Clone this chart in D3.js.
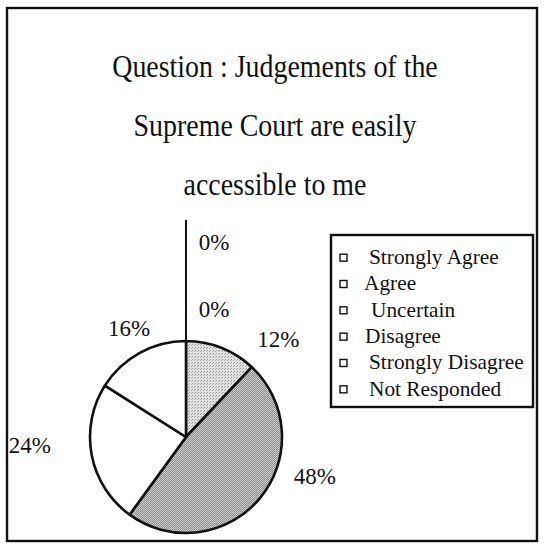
<!DOCTYPE html>
<html>
<head>
<meta charset="utf-8">
<script src="https://cdn.jsdelivr.net/npm/d3@7"></script>
<style>
  body { margin: 0; background: #fff; }
  svg text { font-family: "Liberation Serif", "Times New Roman", serif; fill: #111; }
</style>
</head>
<body>
<div id="pie_chart"></div>
<script>
//chart data
var categories = ["Strongly Agree", "Agree", "Uncertain", "Disagree", "Strongly Disagree", "Not Responded"];
var values = [0, 0, 12, 48, 24, 16];
var titleLines = ["Question : Judgements of the", "Supreme Court are easily", "accessible to me"];

//setting dimensions
var width = 544, height = 547;

var svg = d3.select("#pie_chart")
  .append("svg")
  .attr("width", width)
  .attr("height", height);

//texture patterns (scanned grey fills)
var defs = svg.append("defs");
var light = defs.append("pattern").attr("id", "light")
  .attr("width", 3).attr("height", 3).attr("patternUnits", "userSpaceOnUse");
light.append("rect").attr("width", 3).attr("height", 3).attr("fill", "#e2e2e2");
light.append("rect").attr("x", 0).attr("y", 0).attr("width", 1).attr("height", 1).attr("fill", "#959595");
light.append("rect").attr("x", 2).attr("y", 1).attr("width", 1).attr("height", 1).attr("fill", "#aaaaaa");

var dark = defs.append("pattern").attr("id", "dark")
  .attr("width", 2).attr("height", 2).attr("patternUnits", "userSpaceOnUse");
dark.append("rect").attr("width", 2).attr("height", 2).attr("fill", "#cdcdcd");
dark.append("rect").attr("x", 0).attr("y", 0).attr("width", 1).attr("height", 1).attr("fill", "#858585");
dark.append("rect").attr("x", 1).attr("y", 1).attr("width", 1).attr("height", 1).attr("fill", "#959595");

var fills = ["#fff", "#fff", "url(#light)", "url(#dark)", "#fff", "#fff"];

//outer frame
svg.append("rect")
  .attr("x", 7).attr("y", 8)
  .attr("width", 530).attr("height", 533)
  .attr("fill", "none")
  .attr("stroke", "#111")
  .attr("stroke-width", 2.4);

//title (condensed like the printed original)
svg.append("g").selectAll("text")
  .data(titleLines)
  .enter().append("text")
  .attr("x", 275)
  .attr("y", function(d, i) { return 77 + i * 59; })
  .attr("text-anchor", "middle")
  .style("font-size", "31px")
  .text(function(d) { return d; })
  .each(function() {
    var len = this.getComputedTextLength();
    d3.select(this).attr("textLength", len * 0.9).attr("lengthAdjust", "spacingAndGlyphs");
  });

//pie
var cx = 186, cy = 437, r = 96;
var pie = d3.pie().sort(null).value(function(d) { return d; });
var arcs = pie(values);
var arc = d3.arc().innerRadius(0).outerRadius(r);

var g = svg.append("g").attr("transform", "translate(" + cx + "," + cy + ")");

//leader line for the zero slices
g.append("line")
  .attr("x1", 0).attr("y1", -r)
  .attr("x2", 0).attr("y2", -r - 121)
  .attr("stroke", "#111").attr("stroke-width", 2);

g.selectAll(".slice")
  .data(arcs)
  .enter().append("path")
  .attr("class", "slice")
  .attr("d", arc)
  .attr("fill", function(d, i) { return fills[i]; })
  .attr("stroke", "#111")
  .attr("stroke-width", 2.6)
  .attr("stroke-linejoin", "round");

//label placement: angle nudge (rad) and radius factor per slice
var labelNudge = [0, 0, 0.38, -0.40, 0.14, 0.02];
var labelRadius = [0, 0, 1.40, 1.40, 1.63, 1.28];

g.selectAll(".pct")
  .data(arcs)
  .enter().append("text")
  .attr("class", "pct")
  .attr("text-anchor", "middle")
  .attr("dy", "0.35em")
  .style("font-size", "23px")
  .attr("transform", function(d, i) {
    if (d.value === 0) {
      //zero slices stacked along the leader line
      return "translate(" + 28 + "," + (-r - 99 + i * 67) + ")";
    }
    var a = (d.startAngle + d.endAngle) / 2 + labelNudge[i];
    var rr = r * labelRadius[i];
    return "translate(" + (Math.sin(a) * rr) + "," + (-Math.cos(a) * rr) + ")";
  })
  .text(function(d) { return d.value + "%"; });

//legend
var legend = svg.append("g").attr("transform", "translate(331,235)");
legend.append("rect")
  .attr("width", 202).attr("height", 172)
  .attr("fill", "#fff")
  .attr("stroke", "#111")
  .attr("stroke-width", 2.4);

var yLegend = d3.scaleBand().domain(categories).range([8, 166]);

var item = legend.selectAll(".item")
  .data(categories)
  .enter().append("g")
  .attr("class", "item")
  .attr("transform", function(d) { return "translate(0," + (yLegend(d) + yLegend.bandwidth() / 2) + ")"; });

item.append("rect")
  .attr("x", 9).attr("y", -2)
  .attr("width", 7).attr("height", 7)
  .attr("fill", "#fff")
  .attr("stroke", "#111")
  .attr("stroke-width", 1.4);

item.append("text")
  .attr("x", function(d, i) { return [38, 33, 40, 34, 38, 38][i]; })
  .attr("dy", "0.35em")
  .style("font-size", "22px")
  .text(function(d) { return d; })
  .each(function() {
    var len = this.getComputedTextLength();
    d3.select(this).attr("textLength", len * 0.97).attr("lengthAdjust", "spacingAndGlyphs");
  });
</script>
</body>
</html>
